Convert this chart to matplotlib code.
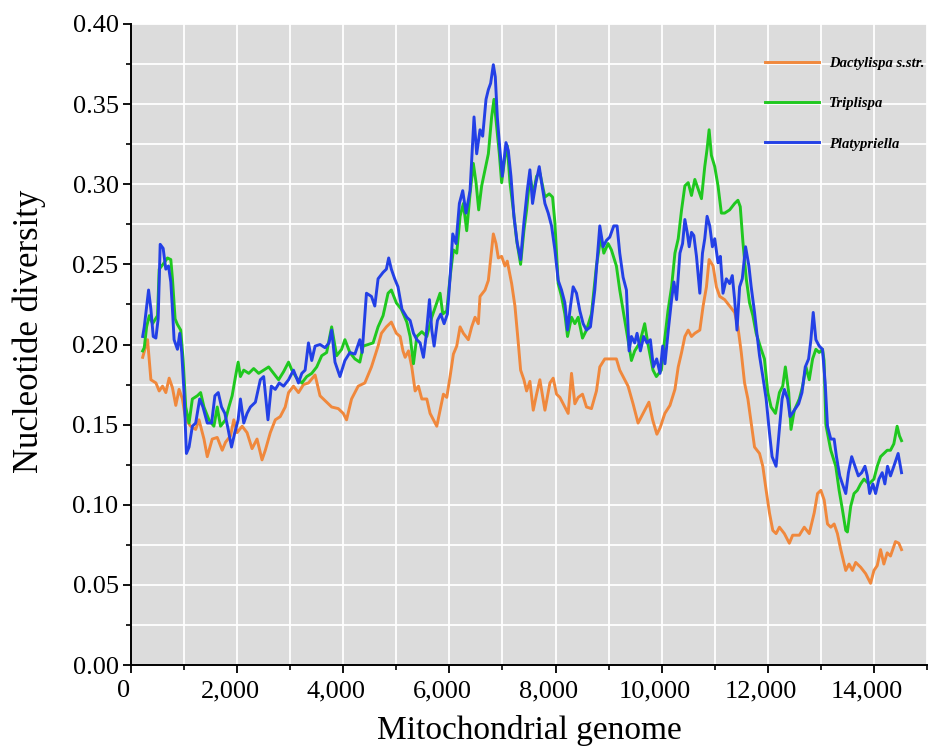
import matplotlib
matplotlib.use("Agg")
import matplotlib.pyplot as plt
from matplotlib.ticker import MultipleLocator, FuncFormatter
from matplotlib.transforms import ScaledTranslation

plt.rcParams['font.family'] = ['Liberation Serif', 'DejaVu Serif']

series_names = ["Dactylispa s.str.", "Triplispa", "Platypriella"]

dac_x = [220, 312, 375, 470, 531, 594, 656, 719, 781, 844, 906, 969, 1031, 1125, 1219, 1281, 1375, 1437,
         1531, 1625, 1719, 1781, 1875, 1937, 2000, 2094, 2187, 2281, 2375, 2469, 2531, 2625, 2719, 2812,
         2906, 2969, 3062, 3156, 3250, 3344, 3469, 3562, 3656, 3781, 3906, 4000, 4062, 4156, 4281, 4406,
         4531, 4656, 4719, 4812, 4906, 5000, 5072, 5125, 5166, 5229, 5291, 5354, 5417, 5480, 5574, 5636,
         5699, 5762, 5824, 5887, 5950, 6013, 6075, 6138, 6201, 6263, 6357, 6420, 6483, 6545, 6577, 6671,
         6734, 6796, 6828, 6878, 6922, 6984, 7047, 7091, 7173, 7235, 7298, 7342, 7404, 7455, 7517, 7580,
         7643, 7705, 7800, 7894, 7956, 8019, 8082, 8144, 8238, 8301, 8364, 8427, 8508, 8583, 8677, 8771,
         8834, 8928, 9022, 9147, 9210, 9273, 9367, 9461, 9555, 9649, 9760, 9830, 9910, 9970, 10060, 10156,
         10250, 10312, 10375, 10437, 10500, 10562, 10625, 10719, 10781, 10844, 10894, 10969, 11031, 11094,
         11187, 11281, 11375, 11437, 11500, 11562, 11625, 11687, 11750, 11844, 11906, 11969, 12031, 12094,
         12156, 12219, 12312, 12406, 12469, 12594, 12687, 12781, 12875, 12937, 13000, 13062, 13125, 13187,
         13250, 13312, 13375, 13469, 13531, 13594, 13656, 13750, 13844, 13937, 14000, 14062, 14125, 14187,
         14250, 14312, 14406, 14469, 14520]
dac_y = [0.192, 0.203, 0.178, 0.176, 0.171, 0.174, 0.170, 0.179, 0.173, 0.162, 0.172, 0.166, 0.153, 0.149,
         0.147, 0.153, 0.141, 0.130, 0.141, 0.142, 0.134, 0.139, 0.143, 0.153, 0.145, 0.149, 0.145, 0.135,
         0.141, 0.128, 0.134, 0.145, 0.153, 0.155, 0.161, 0.170, 0.174, 0.170, 0.175, 0.176, 0.181, 0.168,
         0.165, 0.161, 0.160, 0.157, 0.153, 0.166, 0.174, 0.176, 0.186, 0.199, 0.207, 0.211, 0.214, 0.207,
         0.205, 0.196, 0.192, 0.196, 0.186, 0.171, 0.174, 0.166, 0.166, 0.157, 0.153, 0.149, 0.159, 0.169,
         0.167, 0.180, 0.194, 0.199, 0.211, 0.207, 0.203, 0.211, 0.217, 0.213, 0.230, 0.234, 0.240, 0.259,
         0.269, 0.263, 0.254, 0.255, 0.249, 0.252, 0.238, 0.224, 0.201, 0.184, 0.178, 0.171, 0.177, 0.159,
         0.169, 0.178, 0.159, 0.176, 0.179, 0.169, 0.167, 0.163, 0.157, 0.182, 0.163, 0.167, 0.169, 0.161,
         0.160, 0.171, 0.186, 0.191, 0.191, 0.191, 0.184, 0.180, 0.174, 0.163, 0.151, 0.157, 0.164, 0.153,
         0.144, 0.148, 0.157, 0.162, 0.172, 0.186, 0.195, 0.205, 0.209, 0.205, 0.207, 0.209, 0.224, 0.236,
         0.253, 0.249, 0.236, 0.230, 0.228, 0.224, 0.220, 0.211, 0.195, 0.176, 0.166, 0.151, 0.136, 0.132,
         0.124, 0.109, 0.095, 0.084, 0.082, 0.086, 0.082, 0.076, 0.081, 0.081, 0.086, 0.082, 0.095, 0.107,
         0.109, 0.103, 0.088, 0.086, 0.088, 0.082, 0.072, 0.059, 0.063, 0.059, 0.064, 0.061, 0.057, 0.051,
         0.059, 0.062, 0.072, 0.063, 0.070, 0.068, 0.077, 0.076, 0.072]

tri_x = [220, 250, 294, 344, 406, 500, 531, 625, 687, 750, 781, 831, 875, 937, 981, 1031, 1094, 1156, 1250,
         1312, 1375, 1469, 1562, 1625, 1687, 1781, 1844, 1906, 1969, 2019, 2062, 2125, 2219, 2312, 2406,
         2500, 2594, 2687, 2781, 2875, 2969, 3031, 3125, 3219, 3312, 3406, 3500, 3594, 3687, 3781, 3875,
         3969, 4031, 4125, 4219, 4312, 4375, 4469, 4562, 4656, 4750, 4844, 4906, 5000, 5094, 5197, 5260,
         5323, 5386, 5480, 5574, 5668, 5762, 5824, 5875, 5950, 6013, 6075, 6138, 6201, 6263, 6326, 6389,
         6451, 6502, 6552, 6608, 6671, 6734, 6796, 6840, 6890, 6941, 6984, 7047, 7091, 7141, 7204, 7267,
         7342, 7404, 7455, 7517, 7580, 7643, 7705, 7800, 7881, 7944, 7988, 8050, 8113, 8176, 8226, 8301,
         8364, 8427, 8508, 8583, 8677, 8771, 8853, 8910, 8991, 9053, 9147, 9210, 9285, 9367, 9430, 9492,
         9586, 9680, 9743, 9837, 9900, 9994, 10056, 10119, 10187, 10250, 10312, 10375, 10437, 10500, 10562,
         10625, 10687, 10750, 10812, 10856, 10894, 10937, 11000, 11062, 11125, 11187, 11281, 11375, 11437,
         11481, 11531, 11594, 11656, 11719, 11781, 11875, 11937, 12000, 12062, 12144, 12219, 12281, 12331,
         12394, 12437, 12500, 12594, 12656, 12719, 12781, 12844, 12906, 12969, 13031, 13060, 13094, 13187,
         13281, 13344, 13406, 13469, 13500, 13562, 13625, 13687, 13750, 13812, 13906, 14000, 14062, 14125,
         14187, 14250, 14312, 14375, 14437, 14481, 14520]
tri_y = [0.196, 0.198, 0.211, 0.218, 0.213, 0.218, 0.247, 0.251, 0.254, 0.253, 0.241, 0.216, 0.2125, 0.209,
         0.191, 0.161, 0.151, 0.166, 0.168, 0.170, 0.161, 0.153, 0.149, 0.161, 0.149, 0.153, 0.161, 0.168,
         0.180, 0.189, 0.180, 0.184, 0.182, 0.185, 0.182, 0.184, 0.186, 0.182, 0.178, 0.183, 0.189, 0.184,
         0.179, 0.176, 0.180, 0.182, 0.186, 0.193, 0.195, 0.211, 0.193, 0.197, 0.203, 0.195, 0.191, 0.189,
         0.199, 0.200, 0.201, 0.211, 0.218, 0.232, 0.234, 0.226, 0.222, 0.214, 0.205, 0.188, 0.205, 0.208,
         0.205, 0.217, 0.226, 0.232, 0.219, 0.221, 0.242, 0.259, 0.257, 0.280, 0.288, 0.271, 0.294, 0.313,
         0.301, 0.284, 0.299, 0.309, 0.319, 0.342, 0.353, 0.336, 0.319, 0.301, 0.317, 0.324, 0.301, 0.284,
         0.265, 0.250, 0.271, 0.284, 0.305, 0.294, 0.305, 0.307, 0.292, 0.294, 0.292, 0.276, 0.238, 0.230,
         0.219, 0.205, 0.217, 0.213, 0.217, 0.204, 0.209, 0.219, 0.249, 0.267, 0.257, 0.263, 0.259, 0.249,
         0.234, 0.219, 0.203, 0.190, 0.196, 0.201, 0.213, 0.200, 0.184, 0.180, 0.184, 0.203, 0.221, 0.236,
         0.257, 0.266, 0.284, 0.299, 0.301, 0.293, 0.303, 0.297, 0.291, 0.311, 0.322, 0.334, 0.318, 0.311,
         0.299, 0.282, 0.282, 0.284, 0.288, 0.290, 0.286, 0.264, 0.241, 0.226, 0.218, 0.207, 0.197, 0.191,
         0.170, 0.161, 0.157, 0.170, 0.174, 0.186, 0.170, 0.147, 0.159, 0.166, 0.174, 0.186, 0.178, 0.191,
         0.197, 0.195, 0.197, 0.190, 0.150, 0.134, 0.124, 0.109, 0.097, 0.084, 0.083, 0.099, 0.107, 0.109,
         0.113, 0.116, 0.113, 0.116, 0.124, 0.130, 0.132, 0.134, 0.134, 0.138, 0.149, 0.143, 0.140]

pla_x = [220, 250, 331, 375, 419, 469, 512, 550, 606, 656, 706, 750, 781, 812, 875, 919, 956, 1000, 1044,
         1094, 1156, 1219, 1294, 1356, 1437, 1519, 1581, 1644, 1706, 1769, 1831, 1894, 1956, 2019, 2062,
         2125, 2187, 2250, 2344, 2437, 2500, 2581, 2644, 2719, 2794, 2875, 2969, 3062, 3156, 3219, 3281,
         3344, 3406, 3469, 3562, 3656, 3731, 3781, 3844, 3937, 4031, 4125, 4219, 4312, 4356, 4437, 4531,
         4594, 4656, 4750, 4812, 4856, 4906, 4969, 5031, 5106, 5197, 5260, 5323, 5386, 5448, 5511, 5561,
         5624, 5668, 5712, 5775, 5837, 5900, 5962, 6013, 6063, 6125, 6188, 6251, 6313, 6389, 6464, 6514,
         6577, 6627, 6690, 6734, 6777, 6828, 6865, 6903, 6953, 6997, 7066, 7110, 7160, 7216, 7279, 7342,
         7404, 7467, 7517, 7567, 7630, 7693, 7737, 7800, 7862, 7925, 7988, 8050, 8113, 8176, 8226, 8282,
         8332, 8395, 8458, 8520, 8583, 8658, 8740, 8834, 8897, 8960, 9022, 9097, 9160, 9210, 9273, 9336,
         9386, 9430, 9492, 9536, 9599, 9661, 9724, 9787, 9844, 9906, 9969, 10019, 10062, 10125, 10187,
         10231, 10281, 10344, 10394, 10437, 10481, 10519, 10562, 10606, 10656, 10719, 10769, 10812, 10856,
         10906, 10956, 11000, 11062, 11106, 11156, 11219, 11281, 11331, 11375, 11419, 11469, 11519, 11581,
         11644, 11687, 11750, 11794, 11844, 11906, 11969, 12031, 12081, 12156, 12219, 12269, 12312, 12375,
         12419, 12500, 12581, 12644, 12706, 12769, 12812, 12856, 12906, 12969, 13031, 13081, 13125, 13187,
         13250, 13294, 13356, 13406, 13469, 13519, 13581, 13644, 13706, 13769, 13831, 13875, 13919, 13981,
         14031, 14094, 14156, 14206, 14256, 14312, 14375, 14456, 14520]
pla_y = [0.205, 0.211, 0.234, 0.222, 0.205, 0.204, 0.216, 0.2625, 0.260, 0.247, 0.249, 0.239, 0.222, 0.203,
         0.197, 0.207, 0.195, 0.170, 0.132, 0.136, 0.149, 0.151, 0.166, 0.161, 0.151, 0.151, 0.168, 0.170,
         0.161, 0.157, 0.147, 0.136, 0.145, 0.153, 0.166, 0.151, 0.157, 0.161, 0.164, 0.178, 0.180, 0.153,
         0.174, 0.172, 0.176, 0.174, 0.178, 0.184, 0.176, 0.182, 0.184, 0.201, 0.190, 0.199, 0.200, 0.198,
         0.201, 0.209, 0.189, 0.180, 0.190, 0.195, 0.194, 0.203, 0.195, 0.232, 0.230, 0.224, 0.241, 0.245,
         0.247, 0.254, 0.247, 0.241, 0.236, 0.222, 0.217, 0.215, 0.207, 0.203, 0.201, 0.192, 0.205, 0.228,
         0.209, 0.199, 0.215, 0.219, 0.213, 0.219, 0.242, 0.269, 0.263, 0.288, 0.296, 0.282, 0.296, 0.342,
         0.319, 0.334, 0.330, 0.353, 0.359, 0.363, 0.3746, 0.367, 0.342, 0.321, 0.305, 0.326, 0.321, 0.305,
         0.280, 0.263, 0.253, 0.276, 0.296, 0.309, 0.288, 0.301, 0.311, 0.301, 0.288, 0.282, 0.274, 0.259,
         0.240, 0.234, 0.226, 0.209, 0.224, 0.236, 0.232, 0.221, 0.213, 0.209, 0.211, 0.234, 0.274, 0.261,
         0.265, 0.267, 0.274, 0.274, 0.257, 0.242, 0.234, 0.196, 0.205, 0.201, 0.207, 0.196, 0.205, 0.201,
         0.203, 0.186, 0.191, 0.182, 0.199, 0.188, 0.209, 0.228, 0.239, 0.228, 0.257, 0.263, 0.278, 0.270,
         0.261, 0.270, 0.268, 0.255, 0.232, 0.257, 0.266, 0.280, 0.274, 0.261, 0.266, 0.251, 0.255, 0.232,
         0.241, 0.238, 0.243, 0.228, 0.209, 0.236, 0.241, 0.261, 0.249, 0.236, 0.220, 0.207, 0.193, 0.180,
         0.166, 0.145, 0.130, 0.124, 0.147, 0.166, 0.172, 0.166, 0.155, 0.159, 0.163, 0.170, 0.186, 0.191,
         0.203, 0.220, 0.203, 0.199, 0.197, 0.176, 0.149, 0.141, 0.141, 0.130, 0.118, 0.113, 0.107, 0.120,
         0.130, 0.124, 0.118, 0.120, 0.124, 0.118, 0.107, 0.113, 0.107, 0.116, 0.120, 0.113, 0.124, 0.118,
         0.124, 0.132, 0.120]

colors = ["#F0883C", "#1FC81F", "#2340E6"]

W, H = 933, 751
fig = plt.figure(figsize=(W / 100, H / 100), dpi=100)
ax = fig.add_axes([131 / W, 1 - 665 / H, (927 - 131) / W, (665 - 24) / H])
ax.set_facecolor("#dcdcdc")

for xs, ys, c, name in zip([dac_x, tri_x, pla_x], [dac_y, tri_y, pla_y], colors, series_names):
    ax.plot(xs, ys, color=c, lw=2.1, label=name, solid_joinstyle='round')

ax.set_xlim(0, 15000)
ax.set_ylim(0, 0.40)
ax.xaxis.set_major_locator(MultipleLocator(2000))
ax.xaxis.set_minor_locator(MultipleLocator(1000))
ax.yaxis.set_major_locator(MultipleLocator(0.05))
ax.yaxis.set_minor_locator(MultipleLocator(0.025))
ax.xaxis.set_major_formatter(FuncFormatter(lambda v, p: f"{int(v):,}"))
ax.yaxis.set_major_formatter(FuncFormatter(lambda v, p: f"{v:.2f}"))

ax.grid(True, which='both', color='white', lw=1.3)
ax.set_axisbelow(True)
for s in ['top', 'right']:
    ax.spines[s].set_visible(False)
for s in ['left', 'bottom']:
    ax.spines[s].set_linewidth(1.4)
    ax.spines[s].set_color('black')

ax.tick_params(which='major', direction='out', length=6, width=1.3, labelsize=19, pad=3)
ax.tick_params(which='minor', direction='out', length=3.5, width=1.2)
ax.tick_params(axis='x', which='major', pad=5)

off = ScaledTranslation(-7 / 100, 0, fig.dpi_scale_trans)
for lab in ax.get_xticklabels():
    lab.set_transform(lab.get_transform() + off)

ax.set_xlabel("Mitochondrial genome", fontsize=24, labelpad=9)
fig.text(29 / W, 1 - 331 / H, "Nucleotide diversity", fontsize=25, rotation=90,
         ha='center', va='center')

leg = ax.legend(loc='upper left', bbox_to_anchor=(765 / W, 1 - 57 / H), bbox_transform=fig.transFigure,
                frameon=False, borderpad=0, borderaxespad=0, handlelength=3.7, handletextpad=0.7,
                labelspacing=1.85, prop={'family': 'Liberation Serif', 'style': 'italic',
                                         'weight': 'bold', 'size': 10.5})

fig.savefig("out.png", dpi=100)
